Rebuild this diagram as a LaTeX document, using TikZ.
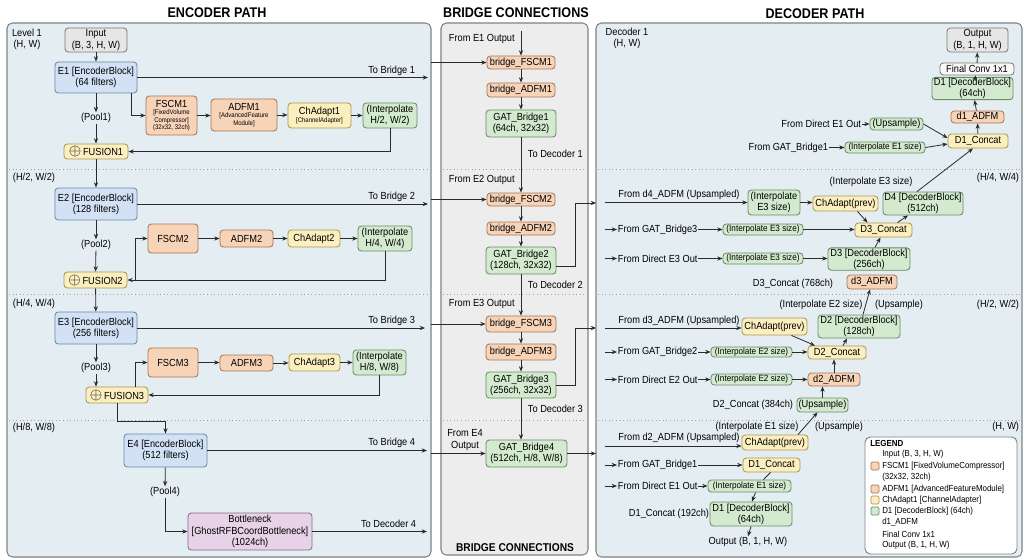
\documentclass[tikz,border=0pt]{standalone}
\usepackage{fontspec}
\setmainfont{Liberation Sans}[FakeStretch=0.9]
\usetikzlibrary{arrows.meta,calc}
\definecolor{panB}{HTML}{E4EEF2}
\definecolor{panG}{HTML}{EDEDED}
\definecolor{dPan}{HTML}{7E8488}
\definecolor{fBlue}{HTML}{D2E2F4}\definecolor{dBlue}{HTML}{6A88A8}
\definecolor{fOr}{HTML}{F7D3B8}\definecolor{dOr}{HTML}{A87858}
\definecolor{fYe}{HTML}{FBEFC0}\definecolor{dYe}{HTML}{A89858}
\definecolor{fGr}{HTML}{D3EACF}\definecolor{dGr}{HTML}{6A8A68}
\definecolor{fGy}{HTML}{E6E6E6}\definecolor{dGy}{HTML}{7A7A7A}
\definecolor{fPu}{HTML}{E8D2E8}\definecolor{dPu}{HTML}{8A6A8A}
\definecolor{ln}{HTML}{2A2A2A}
\newcommand\fmain{\fontsize{7.7}{8.4}\selectfont}
\newcommand\fsmall{\fontsize{6.8}{7.5}\selectfont}
\newcommand\ftiny{\fontsize{5}{5.6}\selectfont}
\newcommand\fleg{\fontsize{6.6}{7.2}\selectfont}
\newcommand\ftitle{\fontsize{10.5}{12}\selectfont\bfseries}
\newcommand\fus{{\fontsize{11.5}{11}\selectfont$\oplus$}\,}
\newcommand\bx[7]{\node[#6, minimum width={(#4-#2)*0.75pt}, minimum height={(#5-#3)*0.75pt}] (#1) at ({(#2+#4)/2},{(#3+#5)/2}) {#7};}
\begin{document}
\begin{tikzpicture}[x=0.75pt,y=-0.75pt,
  box/.style={draw, rounded corners=2.5pt, line width=0.65pt, inner sep=0.6pt, align=center, font=\fmain, text=black},
  encb/.style={box, fill=fBlue, draw=dBlue},
  orb/.style={box, fill=fOr, draw=dOr},
  yelb/.style={box, fill=fYe, draw=dYe},
  grnb/.style={box, fill=fGr, draw=dGr},
  gryb/.style={box, fill=fGy, draw=dGy},
  purb/.style={box, fill=fPu, draw=dPu},
  lbl/.style={font=\fmain, inner sep=0.5pt, align=center},
  arr/.style={draw=ln, line width=0.6pt, -{Stealth[length=4pt,width=3.2pt]}},
  lin/.style={draw=ln, line width=0.6pt},
  pan/.style={draw=dPan, line width=0.8pt, rounded corners=4pt},
  sepl/.style={draw=gray!75, line width=0.7pt, dotted},
  ttl/.style={font=\ftitle, inner sep=0pt},
  legt/.style={font=\fleg, inner sep=0pt, anchor=west},
  legsq/.style={draw, rounded corners=1pt, line width=0.5pt},
]
\useasboundingbox (0,0) rectangle (1028,560);
\fill[white] (0,0) rectangle (1028,560);
% panels
\draw[pan, fill=panB] (7,23) rectangle (431,557);
\draw[pan, fill=panG] (441,23) rectangle (588,555);
\draw[pan, fill=panB] (596,23) rectangle (1022,557);
\foreach \yy in {169,294,420}{
  \draw[sepl] (9,\yy) -- (429,\yy);
  \draw[sepl] (443,\yy) -- (586,\yy);
  \draw[sepl] (598,\yy) -- (1020,\yy);
}
\node[ttl] (tEnc) at (217,13) {ENCODER PATH};
\node[ttl] (tBr) at (516,13) {BRIDGE CONNECTIONS};
\node[ttl] (tDec) at (815,14) {DECODER PATH};
\node[ttl, font=\fontsize{8.5}{10}\selectfont\bfseries] (tBr2) at (515,548) {BRIDGE CONNECTIONS};

% ================= ENCODER =================
\node[lbl] (lv1) at (27,39) {Level 1\\(H, W)};
\bx{inp}{65}{28}{127}{52}{gryb}{Input\\(B, 3, H, W)}
\bx{E1}{55}{62}{137}{93}{encb}{E1 [EncoderBlock]\\(64 filters)}
\node[lbl] (p1) at (96,118) {(Pool1)};
\bx{F1}{64}{144}{128}{159}{yelb}{\fus FUSION1}
\bx{FS1}{146}{96}{197}{135}{orb,font=\ftiny}{{\fmain FSCM1}\\{[}FixedVolume\\Compressor]\\(32x32, 32ch)}
\bx{AD1}{211}{99}{277}{131}{orb,font=\ftiny}{{\fmain ADFM1}\\{[}AdvancedFeature\\Module]}
\bx{CA1}{288}{103}{351}{128}{yelb,font=\ftiny}{{\fmain ChAdapt1}\\{[}ChannelAdapter]}
\bx{IP1}{363}{103}{417}{128}{grnb}{(Interpolate\\H/2, W/2)}
\coordinate (tb1) at (428,78);
\draw[arr] (inp) -- (E1);
\draw[arr] (E1) -- (p1);
\draw[arr] (p1) -- (F1);
\draw[arr] ($(E1.south)+(35,0)$) |- (FS1.west);
\draw[arr] (FS1.east) -- (AD1.west |- FS1.east);
\draw[arr] (AD1.east) -- (CA1.west |- AD1.east);
\draw[arr] (CA1.east) -- (IP1.west |- CA1.east);
\draw[arr] (IP1.south) |- (F1.east);
\draw[arr] (E1.east) -- (tb1 |- E1.east);
\node[lbl, anchor=east] (ltb1) at (416,71) {To Bridge 1};

% level 2
\node[lbl, anchor=west] (lv2) at (12,178) {(H/2, W/2)};
\bx{E2}{55}{188}{137}{220}{encb}{E2 [EncoderBlock]\\(128 filters)}
\node[lbl] (p2) at (96,245) {(Pool2)};
\bx{F2}{64}{272}{127}{288}{yelb}{\fus FUSION2}
\bx{FS2}{148}{224}{198}{253}{orb}{FSCM2}
\bx{AD2}{220}{230}{273}{247}{orb}{ADFM2}
\bx{CA2}{288}{230}{340}{247}{yelb}{ChAdapt2}
\bx{IP2}{358}{226}{412}{251}{grnb}{(Interpolate\\H/4, W/4)}
\coordinate (tb2) at (428,204);
\draw[arr] (F1) -- (E2);
\draw[arr] (E2) -- (p2);
\draw[arr] (p2) -- (F2);
\draw[arr] ($(F2.east)+(8,0)$) |- (FS2.west);
\draw[arr] (FS2.east) -- (AD2.west |- FS2.east);
\draw[arr] (AD2.east) -- (CA2.west |- AD2.east);
\draw[arr] (CA2.east) -- (IP2.west |- CA2.east);
\draw[arr] (IP2.south) |- (F2.east);
\draw[arr] (E2.east) -- (tb2 |- E2.east);
\node[lbl, anchor=east] (ltb2) at (416,197) {To Bridge 2};

% level 3
\node[lbl, anchor=west] (lv3) at (12,304) {(H/4, W/4)};
\bx{E3}{55}{312}{137}{344}{encb}{E3 [EncoderBlock]\\(256 filters)}
\node[lbl] (p3) at (96,368) {(Pool3)};
\bx{F3}{86}{387}{148}{403}{yelb}{\fus FUSION3}
\bx{FS3}{148}{348}{198}{377}{orb}{FSCM3}
\bx{AD3}{220}{355}{273}{371}{orb}{ADFM3}
\bx{CA3}{289}{354}{340}{371}{yelb}{ChAdapt3}
\bx{IP3}{353}{350}{406}{375}{grnb}{(Interpolate\\H/8, W/8)}
\coordinate (tb3) at (425,328);
\draw[arr] (F2) -- (E3);
\draw[arr] (E3) -- (p3);
\draw[arr] (p3.south) -- (p3.south |- F3.north);
\draw[arr] ($(F3.north)+(18,0)$) |- (FS3.west);
\draw[arr] (FS3.east) -- (AD3.west |- FS3.east);
\draw[arr] (AD3.east) -- (CA3.west |- AD3.east);
\draw[arr] (CA3.east) -- (IP3.west |- CA3.east);
\draw[arr] (IP3.south) |- (F3.east);
\draw[arr] (E3.east) -- (tb3 |- E3.east);
\node[lbl, anchor=east] (ltb3) at (416,321) {To Bridge 3};

% level 4
\node[lbl, anchor=west] (lv4) at (12,428) {(H/8, W/8)};
\bx{E4}{124}{434}{207}{467}{encb}{E4 [EncoderBlock]\\(512 filters)}
\node[lbl] (p4) at (165,492) {(Pool4)};
\bx{BN}{188}{513}{312}{550}{purb}{Bottleneck\\{[}GhostRFBCoordBottleneck]\\(1024ch)}
\coordinate (tb4) at (427,451);
\coordinate (td4) at (427,531);
\draw[arr] (F3.south) -- ++(0,18) -| (E4.north);
\draw[arr] (E4) -- (p4);
\draw[arr] (p4.south) |- (BN.west);
\draw[arr] (E4.east) -- (tb4 |- E4.east);
\draw[arr] (BN.east) -- (td4 |- BN.east);
\node[lbl, anchor=east] (ltb4) at (416,443) {To Bridge 4};
\node[lbl, anchor=east] (ltd4) at (417,524) {To Decoder 4};

% ================= BRIDGE =================
\node[lbl, anchor=west] (fe1) at (448,39) {From E1 Output};
\coordinate (bt) at (521,31);
\bx{bFS1}{487}{56}{555}{69}{orb}{bridge\_FSCM1}
\bx{bAD1}{487}{83}{555}{97}{orb}{bridge\_ADFM1}
\bx{G1}{486}{110}{556}{137}{grnb}{GAT\_Bridge1\\(64ch, 32x32)}
\node[lbl, anchor=west] (fe2) at (448,180) {From E2 Output};
\bx{bFS2}{487}{193}{555}{206}{orb}{bridge\_FSCM2}
\bx{bAD2}{487}{222}{555}{235}{orb}{bridge\_ADFM2}
\bx{G2}{486}{247}{556}{274}{grnb}{GAT\_Bridge2\\(128ch, 32x32)}
\node[lbl, anchor=west] (fe3) at (448,304) {From E3 Output};
\bx{bFS3}{486}{316}{556}{332}{orb}{bridge\_FSCM3}
\bx{bAD3}{486}{344}{556}{360}{orb}{bridge\_ADFM3}
\bx{G3}{486}{372}{556}{398}{grnb}{GAT\_Bridge3\\(256ch, 32x32)}
\node[lbl] (fe4) at (465,440) {From E4\\Output};
\bx{G4}{486}{440}{567}{467}{grnb}{GAT\_Bridge4\\(512ch, H/8, W/8)}
\coordinate (bi1) at (431,62.5);
\coordinate (bi2) at (431,199.5);
\coordinate (bi3) at (431,324);
\coordinate (bi4) at (431,453.5);
\coordinate (k2) at (575,203);
\coordinate (k3) at (575,328);
\coordinate (do2) at (596,203);
\coordinate (do3) at (596,328);
\coordinate (do4) at (596,453.5);
\draw[arr] (bt) -- (bFS1);
\draw[arr] (bi1) -- (bFS1.west);
\draw[arr] (bFS1) -- (bAD1);
\draw[arr] (bAD1) -- (G1);
\draw[arr] (G1) -- (bFS2);
\node[lbl, anchor=west] (ltd1) at (527,154) {To Decoder 1};
\draw[arr] (bi2) -- (bFS2.west);
\draw[arr] (bFS2) -- (bAD2);
\draw[arr] (bAD2) -- (G2);
\draw[arr] (G2) -- (bFS3);
\node[lbl, anchor=west] (ltd2) at (527,285) {To Decoder 2};
\draw[arr] ($(G2.east)+(0,6)$) -| (k2) -- (do2);
\draw[arr] (bi3) -- (bFS3.west);
\draw[arr] (bFS3) -- (bAD3);
\draw[arr] (bAD3) -- (G3);
\draw[arr] (G3.south) -- (G3.south |- G4.north);
\node[lbl, anchor=west] (ltd3) at (527,409) {To Decoder 3};
\draw[arr] (G3.east) -| (k3) -- (do3);
\draw[arr] (bi4) -- (G4.west);
\draw[arr] (G4.east) -- (do4);

% ================= DECODER =================
\node[lbl] (dl1) at (627,38) {Decoder 1\\(H, W)};
\bx{OUT}{947}{28}{1008}{52}{gryb}{Output\\(B, 1, H, W)}
\bx{FC}{940}{63}{1014}{75}{gryb,fill=white!70!fGy}{Final Conv 1x1}
\bx{D1t}{932}{78}{1013}{99}{grnb}{D1 [DecoderBlock]\\(64ch)}
\bx{d1A}{951}{111}{1004}{123}{orb}{d1\_ADFM}
\bx{D1c}{948}{134}{1008}{148}{yelb}{D1\_Concat}
\bx{UpA}{870}{118}{923}{130}{grnb}{(Upsample)}
\bx{IpA}{845}{142}{925}{153}{grnb,font=\fsmall}{(Interpolate E1 size)}
\node[lbl, anchor=east] (tA1) at (862,124) {From Direct E1 Out};
\node[lbl, anchor=east] (tA2) at (829,147.5) {From GAT\_Bridge1};
\draw[arr] (tA1.east) -- (UpA.west);
\draw[arr] (tA2.east) -- (IpA.west);
\draw[arr] (UpA.east) -- ($(D1c.west)+(0,-3)$);
\draw[arr] (IpA.east) -- ($(D1c.west)+(0,3)$);
\draw[arr] (D1c) -- (d1A);
\draw[arr] (d1A) -- (D1t);
\draw[arr] (D1t) -- (FC);
\draw[arr] (FC) -- (OUT);

% level H/4
\node[lbl, anchor=east] (dl2) at (1020,178) {(H/4, W/4)};
\node[lbl] (lie3) at (871,182) {(Interpolate E3 size)};
\node[lbl] (tB1) at (679,195) {From d4\_ADFM (Upsampled)};
\bx{IpB}{748}{190}{800}{215}{grnb}{(Interpolate\\E3 size)}
\bx{ChB}{813}{196}{878}{211}{yelb}{ChAdapt(prev)}
\bx{D4}{883}{192}{963}{215}{grnb}{D4 [DecoderBlock]\\(512ch)}
\bx{D3c}{855}{223}{912}{237}{yelb}{D3\_Concat}
\bx{IpC}{723}{224}{803}{235}{grnb,font=\fsmall}{(Interpolate E3 size)}
\bx{IpD}{723}{253}{803}{264}{grnb,font=\fsmall}{(Interpolate E3 size)}
\bx{D3b}{828}{248}{910}{270}{grnb}{D3 [DecoderBlock]\\(256ch)}
\bx{d3A}{847}{275}{897}{289}{orb}{d3\_ADFM}
\node[lbl] (l768) at (793,284) {D3\_Concat (768ch)};
\coordinate (rB) at (605,202.5);
\coordinate (rC) at (605,229.5);
\coordinate (rD) at (605,258.5);
\node[lbl, anchor=west] (tC) at (617,229.5) {From GAT\_Bridge3};
\node[lbl, anchor=west] (tD) at (617,258.5) {From Direct E3 Out};
\draw[arr] (rB) -- (IpB.west);
\draw[arr] (rC) -- (tC.west);
\draw[arr] (tC.east) -- (IpC.west);
\draw[arr] (rD) -- (tD.west);
\draw[arr] (tD.east) -- (IpD.west);
\draw[arr] (IpB.east) -- (ChB.west |- IpB.east);
\draw[arr] (IpC.east) -- (D3c.west |- IpC.east);
\draw[arr] (IpD.east) -- (D3b.west |- IpD.east);
\draw[arr] ($(ChB.south)+(12,0)$) -- ($(D3c.north)+(-16,0)$);
\draw[arr] ($(D3c.north)+(14,0)$) -- ($(D4.south)+(-15,0)$);
\draw[arr] ($(D3b.north)+(6,0)$) -- ($(D3c.south)+(-3,0)$);
\draw[arr] ($(D4.north)+(-6,0)$) -- ($(D1c.south)+(-5,0)$);

% level H/2
\node[lbl, anchor=east] (dl3) at (1020,305) {(H/2, W/2)};
\node[lbl] (lie2) at (821,305) {(Interpolate E2 size)};
\node[lbl] (lup2) at (899,305) {(Upsample)};
\node[lbl] (tE) at (679,321) {From d3\_ADFM (Upsampled)};
\bx{ChE}{742}{318}{807}{335}{yelb}{ChAdapt(prev)}
\bx{D2}{818}{315}{900}{338}{grnb}{D2 [DecoderBlock]\\(128ch)}
\bx{D2c}{808}{346}{866}{359}{yelb}{D2\_Concat}
\bx{IpF}{711}{347}{792}{357}{grnb,font=\fsmall}{(Interpolate E2 size)}
\bx{IpG}{711}{374}{792}{385}{grnb,font=\fsmall}{(Interpolate E2 size)}
\bx{d2A}{808}{373}{860}{386}{orb}{d2\_ADFM}
\node[lbl] (l384) at (753,405) {D2\_Concat (384ch)};
\bx{UpH}{797}{398}{848}{412}{grnb}{(Upsample)}
\coordinate (rE) at (605,328);
\coordinate (rF) at (605,352);
\coordinate (rG) at (605,379.5);
\node[lbl, anchor=west] (tF) at (617,352) {From GAT\_Bridge2};
\node[lbl, anchor=west] (tG) at (617,379.5) {From Direct E2 Out};
\draw[arr] (rE) -- (ChE.west |- rE);
\draw[arr] (rF) -- (tF.west);
\draw[arr] (tF.east) -- (IpF.west);
\draw[arr] (rG) -- (tG.west);
\draw[arr] (tG.east) -- (IpG.west);
\draw[arr] (IpF.east) -- (D2c.west |- IpF.east);
\draw[arr] (IpG.east) -- (d2A.west |- IpG.east);
\draw[arr] (d2A.north) -- (d2A.north |- D2c.south);
\draw[arr] ($(D2c.north)+(6,0)$) -- ($(D2.south)+(-12,0)$);
\draw[arr] ($(ChE.south)+(17,0)$) -- ($(D2c.north)+(-22,0)$);
\draw[arr] ($(D2.north)+(4,0)$) -- ($(d3A.south)+(-2,0)$);
\draw[arr] (UpH.north) -- (UpH.north |- d2A.south);

% level H
\node[lbl, anchor=east] (dl4) at (1020,427) {(H, W)};
\node[lbl] (lie1) at (757,427) {(Interpolate E1 size)};
\node[lbl] (lup1) at (839,427) {(Upsample)};
\node[lbl] (tI) at (679,438) {From d2\_ADFM (Upsampled)};
\bx{ChI}{742}{435}{808}{450}{yelb}{ChAdapt(prev)}
\bx{D1c2}{743}{458}{800}{472}{yelb}{D1\_Concat}
\bx{IpJ}{708}{480}{791}{492}{grnb,font=\fsmall}{(Interpolate E1 size)}
\bx{D1b}{710}{502}{792}{526}{grnb}{D1 [DecoderBlock]\\(64ch)}
\node[lbl] (l192) at (669,514) {D1\_Concat (192ch)};
\node[lbl] (obt) at (748,542) {Output (B, 1, H, W)};
\coordinate (rI) at (605,446);
\coordinate (rK) at (605,465);
\coordinate (rJ) at (605,486);
\node[lbl, anchor=west] (tK) at (617,465) {From GAT\_Bridge1};
\node[lbl, anchor=west] (tJ) at (617,486) {From Direct E1 Out};
\draw[arr] (rI) -- (ChI.west |- rI);
\draw[arr] (rK) -- (tK.west);
\draw[arr] (tK.east) -- (D1c2.west |- tK.east);
\draw[arr] (rJ) -- (tJ.west);
\draw[arr] (tJ.east) -- (IpJ.west |- tJ.east);
\draw[arr] ($(ChI.north)+(23,0)$) -- ($(UpH.south)+(-5,0)$);
\draw[lin] ($(D1c2.south)+(-1,0)$) -- ($(IpJ.north)+(14,0)$);
\draw[arr] ($(IpJ.south)+(6,0)$) -- ($(D1b.north)+(1,0)$);
\draw[arr] (D1b.south) -- (obt.north);

% legend
\draw[draw=dPan, fill=white!92!panG, line width=0.7pt, rounded corners=4pt] (865,437) rectangle (1017,554);
\node[legt, font=\fleg\bfseries] (lgT) at (870,443) {LEGEND};
\node[legt] (lg1) at (882,454) {Input (B, 3, H, W)};
\node[legt] (lg2) at (882,466) {FSCM1 [FixedVolumeCompressor]};
\node[legt] (lg3) at (882,477) {(32x32, 32ch)};
\node[legt] (lg4) at (882,489) {ADFM1 [AdvancedFeatureModule]};
\node[legt] (lg5) at (882,500) {ChAdapt1 [ChannelAdapter]};
\node[legt] (lg6) at (882,511) {D1 [DecoderBlock] (64ch)};
\node[legt] (lg7) at (882,522) {d1\_ADFM};
\node[legt] (lg8) at (882,534) {Final Conv 1x1};
\node[legt] (lg9) at (882,545) {Output (B, 1, H, W)};
\draw[legsq, fill=fOr, draw=dOr] (871,462) rectangle (879,470);
\draw[legsq, fill=fOr, draw=dOr] (871,485) rectangle (879,493);
\draw[legsq, fill=fYe, draw=dYe] (871,496) rectangle (879,504);
\draw[legsq, fill=fGr, draw=dGr] (871,507) rectangle (879,515);
\end{tikzpicture}
\end{document}
